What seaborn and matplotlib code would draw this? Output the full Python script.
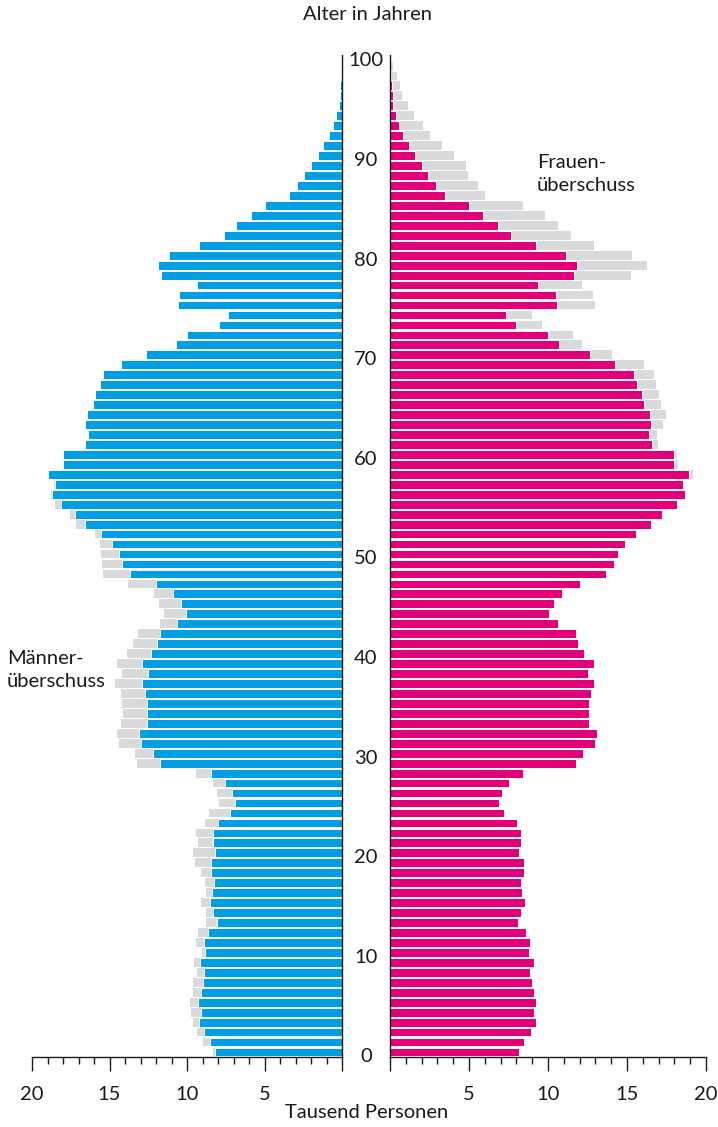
import pandas as pd
import matplotlib
matplotlib.use('Agg')
import matplotlib.pyplot as plt
import matplotlib.transforms as mtransforms
import seaborn as sns

# Alter 0..99, Werte in Tausend Personen
ages = list(range(100))
men = [8.30, 8.99, 9.38, 9.61, 9.76, 9.78, 9.59, 9.59, 9.38, 9.53,
       9.01, 9.42, 9.29, 8.80, 8.77, 9.10, 8.80, 8.86, 9.10, 9.48,
       9.59, 9.31, 9.42, 8.84, 8.56, 7.94, 8.06, 8.34, 9.42, 13.24,
       13.33, 14.37, 14.54, 14.24, 14.15, 14.19, 14.26, 14.62, 14.17, 14.54,
       13.89, 13.50, 13.16, 11.76, 11.46, 11.83, 12.15, 13.83, 15.44, 15.51,
       15.57, 15.63, 15.96, 17.18, 17.57, 18.54, 18.75, 18.55, 18.95, 18.00,
       18.00, 16.61, 16.41, 16.55, 16.47, 16.07, 15.92, 15.63, 15.42, 14.25,
       12.64, 10.72, 10.01, 7.96, 7.37, 10.58, 10.51, 9.34, 11.66, 11.85,
       11.15, 9.22, 7.63, 6.86, 5.90, 4.97, 3.45, 2.88, 2.43, 2.02,
       1.57, 1.22, 0.82, 0.59, 0.38, 0.20, 0.16, 0.10, 0.06, 0.03]
women = [8.19, 8.50, 8.90, 9.24, 9.09, 9.26, 9.11, 9.00, 8.88, 9.14,
         8.82, 8.88, 8.62, 8.08, 8.30, 8.52, 8.37, 8.27, 8.48, 8.47,
         8.17, 8.30, 8.30, 8.02, 7.22, 6.88, 7.10, 7.54, 8.42, 11.76,
         12.21, 12.99, 13.09, 12.61, 12.59, 12.59, 12.71, 12.92, 12.54, 12.90,
         12.31, 11.91, 11.76, 10.64, 10.07, 10.38, 10.88, 12.02, 13.65, 14.20,
         14.41, 14.86, 15.58, 16.55, 17.24, 18.16, 18.70, 18.53, 19.16, 18.23,
         18.19, 16.96, 16.91, 17.25, 17.44, 17.15, 17.00, 16.85, 16.74, 16.05,
         14.03, 12.14, 11.57, 9.60, 8.99, 12.96, 12.84, 12.14, 15.24, 16.26,
         15.34, 12.90, 11.45, 10.63, 9.79, 8.42, 6.00, 5.59, 4.96, 4.79,
         4.03, 3.32, 2.52, 2.08, 1.55, 1.12, 0.74, 0.61, 0.42, 0.21]

df = pd.DataFrame({'age': ages, 'men': men, 'women': women})
df['pos'] = df['age'] + 0.5
df['both'] = df[['men', 'women']].min(axis=1)

BLUE = '#009fe3'
PINK = '#e2007a'
GREY = '#d9dadb'
DARK = '#1a1a1a'

sns.set_theme(style='ticks')
plt.rcParams['font.family'] = ['Lato', 'DejaVu Sans']
plt.rcParams['text.color'] = DARK
plt.rcParams['xtick.color'] = DARK
plt.rcParams['axes.edgecolor'] = DARK

FS = 14.5
W, H = 718, 1127
fig = plt.figure(figsize=(W / 100, H / 100), dpi=100)
ax_l = fig.add_axes([32 / W, 70 / H, 310 / W, 1002 / H])
ax_r = fig.add_axes([390 / W, 70 / H, 316 / W, 1002 / H])

bar_kw = dict(orient='h', native_scale=True, width=0.88, saturation=1, errorbar=None)

# Männer links: grau = Männerüberschuss, blau = gemeinsamer Teil
sns.barplot(data=df, x='men', y='pos', color=GREY, ax=ax_l, edgecolor='none', **bar_kw)
sns.barplot(data=df, x='both', y='pos', color=BLUE, ax=ax_l, edgecolor='white', linewidth=0.7, **bar_kw)
# Frauen rechts
sns.barplot(data=df, x='women', y='pos', color=GREY, ax=ax_r, edgecolor='none', **bar_kw)
sns.barplot(data=df, x='both', y='pos', color=PINK, ax=ax_r, edgecolor='white', linewidth=0.7, **bar_kw)

ax_l.set_xlim(20, 0)
ax_r.set_xlim(0, 20)
for ax in (ax_l, ax_r):
    ax.set_ylim(0, 100.6)
    ax.set_xlabel('')
    ax.set_ylabel('')
    ax.set_yticks([])
    ax.set_xticks([0, 5, 10, 15, 20])
    ax.set_xticks(range(21), minor=True)
    ax.set_xticklabels(['', '5', '10', '15', '20'], fontsize=FS)
    ax.tick_params(axis='x', which='major', length=10, width=1, pad=11)
    ax.tick_params(axis='x', which='minor', length=5, width=1)
    ax.spines['top'].set_visible(False)
    for s in ax.spines.values():
        s.set_linewidth(1)

ax_l.spines['left'].set_visible(False)
ax_r.spines['right'].set_visible(False)

# Altersangaben in der Mitte
trans = mtransforms.blended_transform_factory(fig.transFigure, ax_r.transData)
for a in range(0, 101, 10):
    ax_r.text(366 / W, a, str(a), transform=trans, ha='center', va='center',
              fontsize=FS, clip_on=False)

fig.text(367 / W, 1 - 15 / H, 'Alter in Jahren', ha='center', va='center', fontsize=FS)
fig.text(367 / W, 1 - 1113 / H, 'Tausend Personen', ha='center', va='center', fontsize=FS)
fig.text(7 / W, 1 - 670 / H, 'Männer-\nüberschuss', ha='left', va='center',
         fontsize=FS, linespacing=1.4)
fig.text(537 / W, 1 - 174 / H, 'Frauen-\nüberschuss', ha='left', va='center',
         fontsize=FS, linespacing=1.4)

fig.savefig('out.png', dpi=100, facecolor='white')
